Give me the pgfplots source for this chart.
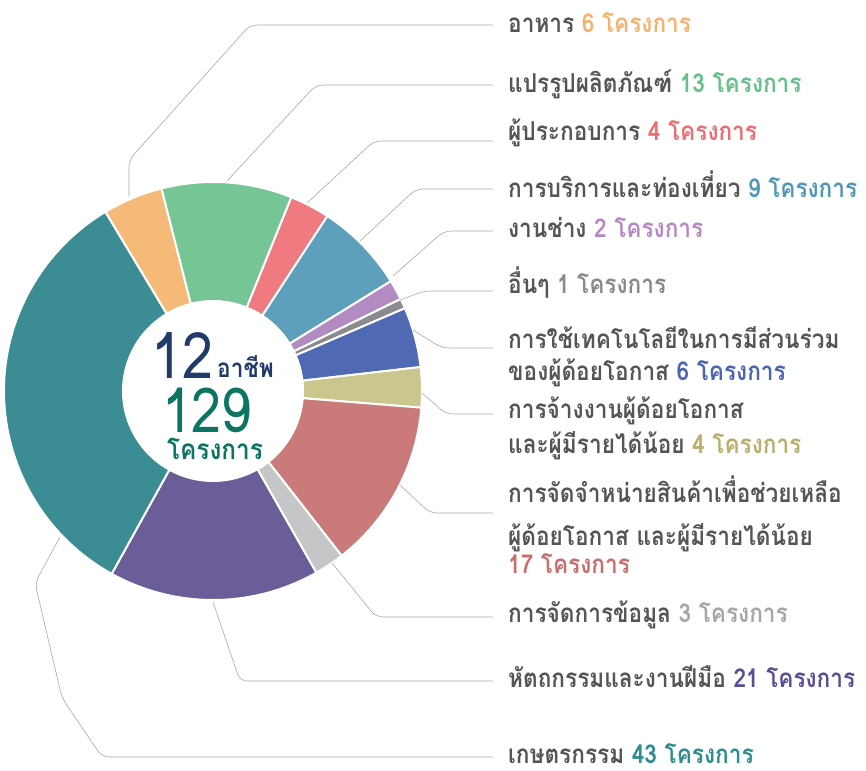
\documentclass[border=0pt]{standalone}
\usepackage{pgfplots}
\usepackage{pgfplotstable}
\pgfplotsset{compat=1.18}
\usepackage{fontspec}
\newfontfamily\thai[Script=Thai, FakeStretch=0.87]{Loma}

\definecolor{cOrange}{HTML}{F6BA78}
\definecolor{cGreen}{HTML}{76C595}
\definecolor{cRed}{HTML}{EF7A7F}
\definecolor{cSteel}{HTML}{5E9FBC}
\definecolor{cLav}{HTML}{B28BC3}
\definecolor{cGray}{HTML}{8A8B8D}
\definecolor{cBlue}{HTML}{4F69B2}
\definecolor{cOlive}{HTML}{CAC68D}
\definecolor{cRose}{HTML}{CA7A79}
\definecolor{cLgray}{HTML}{C5C6C8}
\definecolor{cPurple}{HTML}{6A5D98}
\definecolor{cTeal}{HTML}{3B8D93}

\definecolor{nOrange}{HTML}{F5B26E}
\definecolor{nGreen}{HTML}{66C08B}
\definecolor{nRed}{HTML}{EB6E73}
\definecolor{nSteel}{HTML}{4F98B6}
\definecolor{nLav}{HTML}{B787C6}
\definecolor{nGray}{HTML}{8A8A8A}
\definecolor{nBlue}{HTML}{4B64B3}
\definecolor{nOlive}{HTML}{B7AF6B}
\definecolor{nRose}{HTML}{C86E6C}
\definecolor{nLgray}{HTML}{A6A6A6}
\definecolor{nPurple}{HTML}{5B4D94}
\definecolor{nTeal}{HTML}{2E8D90}

\definecolor{lab}{HTML}{555555}
\definecolor{leader}{HTML}{A8A8A8}
\definecolor{navy}{HTML}{1F3A6B}
\definecolor{deepteal}{HTML}{0B7462}

\pgfplotstableread[col sep=comma]{
key,value,color
food,6,cOrange
processing,13,cGreen
entrepreneur,4,cRed
tourism,9,cSteel
craftsman,2,cLav
other,1,cGray
technology,6,cBlue
employment,4,cOlive
distribution,17,cRose
data,3,cLgray
handicraft,21,cPurple
agriculture,43,cTeal
}\piedata

\newcommand{\lbl}{\thai\bfseries\fontsize{26bp}{30bp}\selectfont}

\begin{document}
\begin{tikzpicture}
\path[use as bounding box] (0,0) rectangle (866bp,771bp);
\begin{axis}[at={(0,0)}, anchor=south west, x=1bp, y=1bp,
  xmin=0, xmax=866, ymin=0, ymax=771, y dir=reverse,
  hide axis, clip=false]
\pgfplotstablegetrowsof{\piedata}
\pgfmathtruncatemacro{\N}{\pgfplotsretval-1}
\gdef\total{0}
\pgfplotsforeachungrouped \i in {0,...,\N}{%
  \pgfplotstablegetelem{\i}{value}\of\piedata
  \pgfmathsetmacro{\newtotal}{\total+\pgfplotsretval}%
  \global\let\total\newtotal
}
\gdef\angcur{121}
\pgfplotsforeachungrouped \i in {0,...,\N}{%
  \pgfplotstablegetelem{\i}{value}\of\piedata
  \pgfmathsetmacro{\angnext}{\angcur-\pgfplotsretval/\total*360}%
  \pgfplotstablegetelem{\i}{color}\of\piedata
  \edef\slicecolor{\pgfplotsretval}%
  \edef\temp{\noexpand\fill[\slicecolor, draw=white, line width=2pt, line join=round, shift={(axis cs:213,391)}]
    (\angcur:90bp) -- (\angcur:209bp) arc[start angle=\angcur, end angle=\angnext, radius=209bp]
    -- (\angnext:90bp) arc[start angle=\angnext, end angle=\angcur, radius=90bp] -- cycle;}%
  \temp
  \global\let\angcur\angnext
}

% leader lines
\begin{scope}[leader, line width=0.6pt, rounded corners=7bp]
\draw (axis cs:129,196) -- (axis cs:129,160) -- (axis cs:250,25) -- (axis cs:493,25);
\draw (axis cs:227,181) -- (axis cs:316,85) -- (axis cs:493,85);
\draw (axis cs:307,203) -- (axis cs:374,141) -- (axis cs:493,141);
\draw (axis cs:360,241) -- (axis cs:416,189) -- (axis cs:493,189);
\draw (axis cs:393,276) -- (axis cs:444,231) -- (axis cs:493,231);
\draw (axis cs:400,300) -- (axis cs:424,291) -- (axis cs:493,291);
\draw (axis cs:413,330) -- (axis cs:442,348) -- (axis cs:493,348);
\draw (axis cs:422,393) -- (axis cs:446,414) -- (axis cs:493,414);
\draw (axis cs:400,485) -- (axis cs:430,513) -- (axis cs:493,513);
\draw (axis cs:332,563) -- (axis cs:376,617) -- (axis cs:493,617);
\draw (axis cs:213,602) -- (axis cs:240,681) -- (axis cs:493,681);
\draw (axis cs:60,537) -- (axis cs:35,583) -- (axis cs:62,698) -- (axis cs:102,757) -- (axis cs:493,757);
\end{scope}

% labels
\begin{scope}[every node/.style={anchor=base west, inner sep=0pt, text=lab, font=\lbl}]
\node at (axis cs:508,32) {อาหาร \textcolor{nOrange}{6 โครงการ}};
\node at (axis cs:508,92) {แปรรูปผลิตภัณฑ์ \textcolor{nGreen}{13 โครงการ}};
\node at (axis cs:508,140) {ผู้ประกอบการ \textcolor{nRed}{4 โครงการ}};
\node at (axis cs:508,197) {การบริการและท่องเที่ยว \textcolor{nSteel}{9 โครงการ}};
\node at (axis cs:508,237) {งานช่าง \textcolor{nLav}{2 โครงการ}};
\node at (axis cs:508,293) {อื่นๆ \textcolor{nGray}{1 โครงการ}};
\node at (axis cs:508,348) {การใช้เทคโนโลยีในการมีส่วนร่วม};
\node at (axis cs:508,380) {ของผู้ด้อยโอกาส \textcolor{nBlue}{6 โครงการ}};
\node at (axis cs:508,418) {การจ้างงานผู้ด้อยโอกาส};
\node at (axis cs:508,453) {และผู้มีรายได้น้อย \textcolor{nOlive}{4 โครงการ}};
\node at (axis cs:508,502) {การจัดจำหน่ายสินค้าเพื่อช่วยเหลือ};
\node at (axis cs:508,545) {ผู้ด้อยโอกาส และผู้มีรายได้น้อย};
\node at (axis cs:508,573) {\textcolor{nRose}{17 โครงการ}};
\node at (axis cs:508,622) {การจัดการข้อมูล \textcolor{nLgray}{3 โครงการ}};
\node at (axis cs:508,687) {หัตถกรรมและงานฝีมือ \textcolor{nPurple}{21 โครงการ}};
\node at (axis cs:508,763) {เกษตรกรรม \textcolor{nTeal}{43 โครงการ}};
\end{scope}

% centre text
\node[anchor=base east, inner sep=0pt, text depth=0pt, text=navy, font=\thai\fontsize{64bp}{64bp}\selectfont] at (axis cs:214,378) {12};
\node[anchor=base west, inner sep=0pt, text depth=0pt, text=navy, font=\thai\bfseries\fontsize{26bp}{26bp}\selectfont] at (axis cs:217,377) {อาชีพ};
\node[anchor=base, inner sep=0pt, text depth=0pt, text=deepteal, font=\thai\fontsize{62bp}{62bp}\selectfont] at (axis cs:207,432) {129};
\node[anchor=base, inner sep=0pt, text depth=0pt, text height=15bp, text=deepteal, font=\thai\bfseries\fontsize{28bp}{28bp}\selectfont] at (axis cs:215,459) {โครงการ};
\end{axis}
\end{tikzpicture}
\end{document}
